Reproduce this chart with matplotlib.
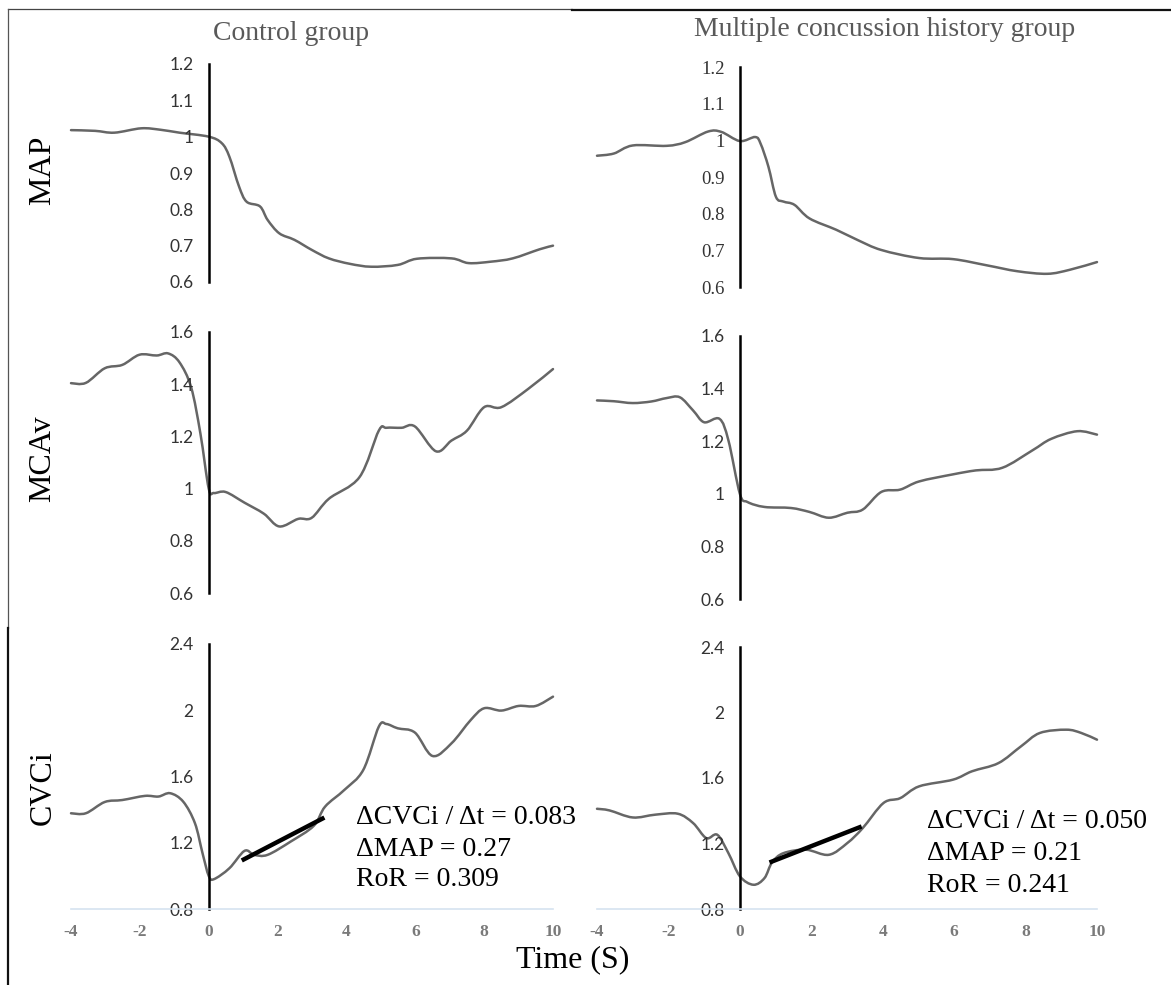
import matplotlib
matplotlib.use("Agg")
import matplotlib.pyplot as plt
import numpy as np
from matplotlib.lines import Line2D
from matplotlib.path import Path
from matplotlib.patches import PathPatch

# ---------------- data ----------------
ctrl_map_t = [-4.0, -3.3, -2.74, -1.96, -1.4, -0.85, 0, 0.38, 0.6, 0.88, 1.1, 1.49, 1.71, 2.05, 2.49, 3.0, 3.49, 4.1, 4.72, 5.49, 6.05, 7.05, 7.55, 8.2, 8.83, 9.61, 10.0]
ctrl_map = [1.018, 1.016, 1.011, 1.023, 1.019, 1.011, 1.0, 0.982, 0.945, 0.863, 0.821, 0.808, 0.771, 0.734, 0.716, 0.688, 0.665, 0.650, 0.642, 0.647, 0.664, 0.665, 0.652, 0.656, 0.665, 0.690, 0.700]

mch_map_t = [-4.0, -3.53, -3.0, -2.05, -1.53, -0.89, -0.52, 0, 0.43, 0.58, 0.80, 1.01, 1.22, 1.53, 1.95, 2.70, 3.3, 3.96, 5.02, 5.97, 6.92, 7.77, 8.61, 9.24, 10.0]
mch_map = [0.958, 0.964, 0.986, 0.985, 0.995, 1.024, 1.023, 0.998, 1.009, 0.991, 0.928, 0.846, 0.833, 0.824, 0.787, 0.756, 0.728, 0.701, 0.679, 0.676, 0.659, 0.643, 0.636, 0.647, 0.668]

ctrl_mcav_t = [-4.0, -3.57, -3.02, -2.51, -2.01, -1.51, -1.18, -0.85, -0.51, -0.24, 0, 0.15, 0.49, 1.04, 1.60, 2.05, 2.60, 2.99, 3.49, 4.38, 4.94, 5.16, 5.6, 5.99, 6.60, 7.05, 7.5, 8.0, 8.5, 9.28, 10.0]
ctrl_mcav = [1.404, 1.405, 1.461, 1.474, 1.513, 1.51, 1.518, 1.484, 1.388, 1.21, 1.0, 0.983, 0.987, 0.946, 0.904, 0.855, 0.884, 0.888, 0.961, 1.044, 1.222, 1.233, 1.233, 1.238, 1.143, 1.184, 1.222, 1.312, 1.312, 1.382, 1.458]

mch_mcav_t = [-4.0, -3.53, -3.0, -2.48, -2.05, -1.68, -1.31, -1.0, -0.57, -0.32, 0, 0.21, 0.69, 1.43, 1.95, 2.49, 3.01, 3.44, 3.96, 4.49, 5.02, 5.97, 6.61, 7.35, 8.19, 8.72, 9.45, 10.0]
mch_mcav = [1.355, 1.352, 1.345, 1.351, 1.364, 1.367, 1.317, 1.272, 1.285, 1.203, 1.0, 0.969, 0.95, 0.946, 0.931, 0.909, 0.928, 0.940, 1.007, 1.016, 1.047, 1.074, 1.089, 1.099, 1.165, 1.209, 1.238, 1.225]

ctrl_cvci_t = [-4.0, -3.57, -3.02, -2.51, -1.85, -1.46, -1.12, -0.74, -0.40, -0.18, 0, 0.15, 0.60, 1.04, 1.32, 1.71, 2.38, 3.05, 3.38, 3.94, 4.49, 4.94, 5.16, 5.49, 5.99, 6.50, 7.05, 7.61, 8.0, 8.5, 9.0, 9.5, 10.0]
ctrl_cvci = [1.378, 1.378, 1.446, 1.458, 1.483, 1.479, 1.499, 1.448, 1.318, 1.137, 1.0, 0.98, 1.046, 1.151, 1.127, 1.127, 1.207, 1.302, 1.418, 1.519, 1.640, 1.901, 1.917, 1.891, 1.865, 1.724, 1.80, 1.941, 2.012, 1.998, 2.026, 2.026, 2.082]

mch_cvci_t = [-4.0, -3.65, -3.0, -2.37, -1.74, -1.31, -0.94, -0.63, -0.32, 0, 0.38, 0.69, 0.90, 1.22, 1.85, 2.49, 3.01, 3.44, 4.02, 4.49, 5.02, 5.97, 6.50, 7.24, 7.87, 8.40, 9.14, 9.56, 10.0]
mch_cvci = [1.412, 1.402, 1.359, 1.376, 1.382, 1.325, 1.233, 1.253, 1.141, 1.0, 0.948, 0.989, 1.084, 1.141, 1.162, 1.131, 1.203, 1.294, 1.447, 1.477, 1.549, 1.590, 1.641, 1.691, 1.793, 1.875, 1.895, 1.875, 1.834]

ctrl_fit_t = [0.96, 3.36]
ctrl_fit = [1.093, 1.352]
mch_fit_t = [0.83, 3.41]
mch_fit = [1.084, 1.304]

x_ticks = [-4, -2, 0, 2, 4, 6, 8, 10]
map_ticks = [0.6, 0.7, 0.8, 0.9, 1.0, 1.1, 1.2]
map_labels = ["0.6", "0.7", "0.8", "0.9", "1", "1.1", "1.2"]
mcav_ticks = [0.6, 0.8, 1.0, 1.2, 1.4, 1.6]
mcav_labels = ["0.6", "0.8", "1", "1.2", "1.4", "1.6"]
cvci_ticks = [0.8, 1.2, 1.6, 2.0, 2.4]
cvci_labels = ["0.8", "1.2", "1.6", "2", "2.4"]

col_titles = ["Control group", "Multiple concussion history group"]
row_labels = ["MAP", "MCAv", "CVCi"]
ctrl_stats = ["\u0394CVCi / \u0394t = 0.083", "\u0394MAP = 0.27", "RoR = 0.309"]
mch_stats = ["\u0394CVCi / \u0394t = 0.050", "\u0394MAP = 0.21", "RoR = 0.241"]

# ---------------- figure ----------------
W, H = 1171, 985
fig = plt.figure(figsize=(W / 100, H / 100), dpi=100)
fig.patch.set_facecolor("white")

SERIF = ["Liberation Serif", "DejaVu Serif"]
SANS = ["Lato", "DejaVu Sans"]
LINE_C = "#666666"


def px_rect(x0, x1, ytop, ybot):
    return [x0 / W, 1 - ybot / H, (x1 - x0) / W, (ybot - ytop) / H]


def make_ax(rect, ylim, yticks, ylabels, tick_family, show_x, ysize=12.5):
    ax = fig.add_axes(rect)
    ax.patch.set_alpha(0)
    ax.set_xlim(-4, 10)
    ax.set_ylim(*ylim)
    for s in ("top", "right"):
        ax.spines[s].set_visible(False)
    ax.spines["left"].set_position(("data", 0))
    ax.spines["left"].set_color("black")
    ax.spines["left"].set_linewidth(1.8)
    ax.set_yticks(yticks)
    ax.set_yticklabels(ylabels)
    ax.tick_params(axis="y", length=0, pad=11, labelsize=ysize, labelcolor="#333333")
    for lab in ax.get_yticklabels():
        lab.set_family(tick_family)
    if show_x:
        ax.spines["bottom"].set_color("#d6e3f0")
        ax.spines["bottom"].set_linewidth(1.2)
        ax.set_xticks(x_ticks)
        ax.set_xticklabels([str(v) for v in x_ticks])
        ax.tick_params(axis="x", length=0, pad=11, labelsize=12.5, labelcolor="#7a7a7a")
        for lab in ax.get_xticklabels():
            lab.set_family(SERIF)
            lab.set_fontweight("bold")
    else:
        ax.spines["bottom"].set_visible(False)
        ax.set_xticks([])
    return ax


def smooth_line(ax, t, y, color, lw):
    # Excel-style smoothed line through the data points (Catmull-Rom as cubic Bezier)
    P = np.column_stack([t, y]).astype(float)
    n = len(P)
    verts = [tuple(P[0])]
    codes = [Path.MOVETO]
    for i in range(n - 1):
        p0 = P[i - 1] if i > 0 else P[i]
        p1 = P[i]
        p2 = P[i + 1]
        p3 = P[i + 2] if i + 2 < n else P[i + 1]
        c1 = p1 + (p2 - p0) / 6.0
        c2 = p2 - (p3 - p1) / 6.0
        verts += [tuple(c1), tuple(c2), tuple(p2)]
        codes += [Path.CURVE4] * 3
    patch = PathPatch(Path(verts, codes), facecolor="none", edgecolor=color, lw=lw,
                      transform=ax.transData, clip_on=False, capstyle="round",
                      joinstyle="round")
    ax.add_patch(patch)


ax_tl = make_ax(px_rect(71, 553, 64, 282), (0.6, 1.2), map_ticks, map_labels, SANS, False)
ax_tr = make_ax(px_rect(597, 1097, 67, 287), (0.6, 1.2), map_ticks, map_labels, SERIF, False, 13.5)
ax_ml = make_ax(px_rect(71, 553, 332, 593), (0.6, 1.6), mcav_ticks, mcav_labels, SANS, False)
ax_mr = make_ax(px_rect(597, 1097, 336, 599), (0.6, 1.6), mcav_ticks, mcav_labels, SANS, False)
ax_bl = make_ax(px_rect(71, 553, 644, 909), (0.8, 2.4), cvci_ticks, cvci_labels, SANS, True)
ax_br = make_ax(px_rect(597, 1097, 647, 909), (0.8, 2.4), cvci_ticks, cvci_labels, SANS, True)

smooth_line(ax_tl, ctrl_map_t, ctrl_map, LINE_C, 1.8)
smooth_line(ax_tr, mch_map_t, mch_map, LINE_C, 1.8)
smooth_line(ax_ml, ctrl_mcav_t, ctrl_mcav, LINE_C, 1.8)
smooth_line(ax_mr, mch_mcav_t, mch_mcav, LINE_C, 1.8)
smooth_line(ax_bl, ctrl_cvci_t, ctrl_cvci, LINE_C, 1.8)
smooth_line(ax_br, mch_cvci_t, mch_cvci, LINE_C, 1.8)
ax_bl.plot(ctrl_fit_t, ctrl_fit, color="black", lw=3.2, solid_capstyle="butt")
ax_br.plot(mch_fit_t, mch_fit, color="black", lw=3.2, solid_capstyle="butt")

# titles
fig.text(291 / W, 1 - 33 / H, col_titles[0], ha="center", va="center",
         fontsize=20, color="#595959", family=SERIF)
fig.text(885 / W, 1 - 30 / H, col_titles[1], ha="center", va="center",
         fontsize=20, color="#595959", family=SERIF)

# row labels
for lab, yc in zip(row_labels, [170, 459, 788]):
    fig.text(43 / W, 1 - yc / H, lab, ha="center", va="center", rotation=90,
             fontsize=23, color="black", family=SERIF)

# stats text
for s, yc in zip(ctrl_stats, [818, 849, 880]):
    fig.text(356 / W, 1 - yc / H, s, ha="left", va="center", fontsize=20,
             color="black", family=SERIF)
for s, yc in zip(mch_stats, [822, 853, 885]):
    fig.text(927 / W, 1 - yc / H, s, ha="left", va="center", fontsize=20,
             color="black", family=SERIF)

# x label
fig.text(573 / W, 1 - 960 / H, "Time (S)", ha="center", va="center",
         fontsize=23, color="black", family=SERIF)

# border lines
T = fig.transFigure
fig.add_artist(Line2D([8 / W, 572 / W], [1 - 9.3 / H] * 2, color="#444444", lw=0.9, transform=T))
fig.add_artist(Line2D([572 / W, 1.0], [1 - 9.8 / H] * 2, color="#111111", lw=1.6, transform=T))
fig.add_artist(Line2D([7.5 / W] * 2, [1 - 9 / H, 1 - 628 / H], color="#555555", lw=0.9, transform=T))
fig.add_artist(Line2D([8 / W] * 2, [1 - 628 / H, 0.0], color="#111111", lw=1.6, transform=T))

fig.savefig("out.png", dpi=100)
